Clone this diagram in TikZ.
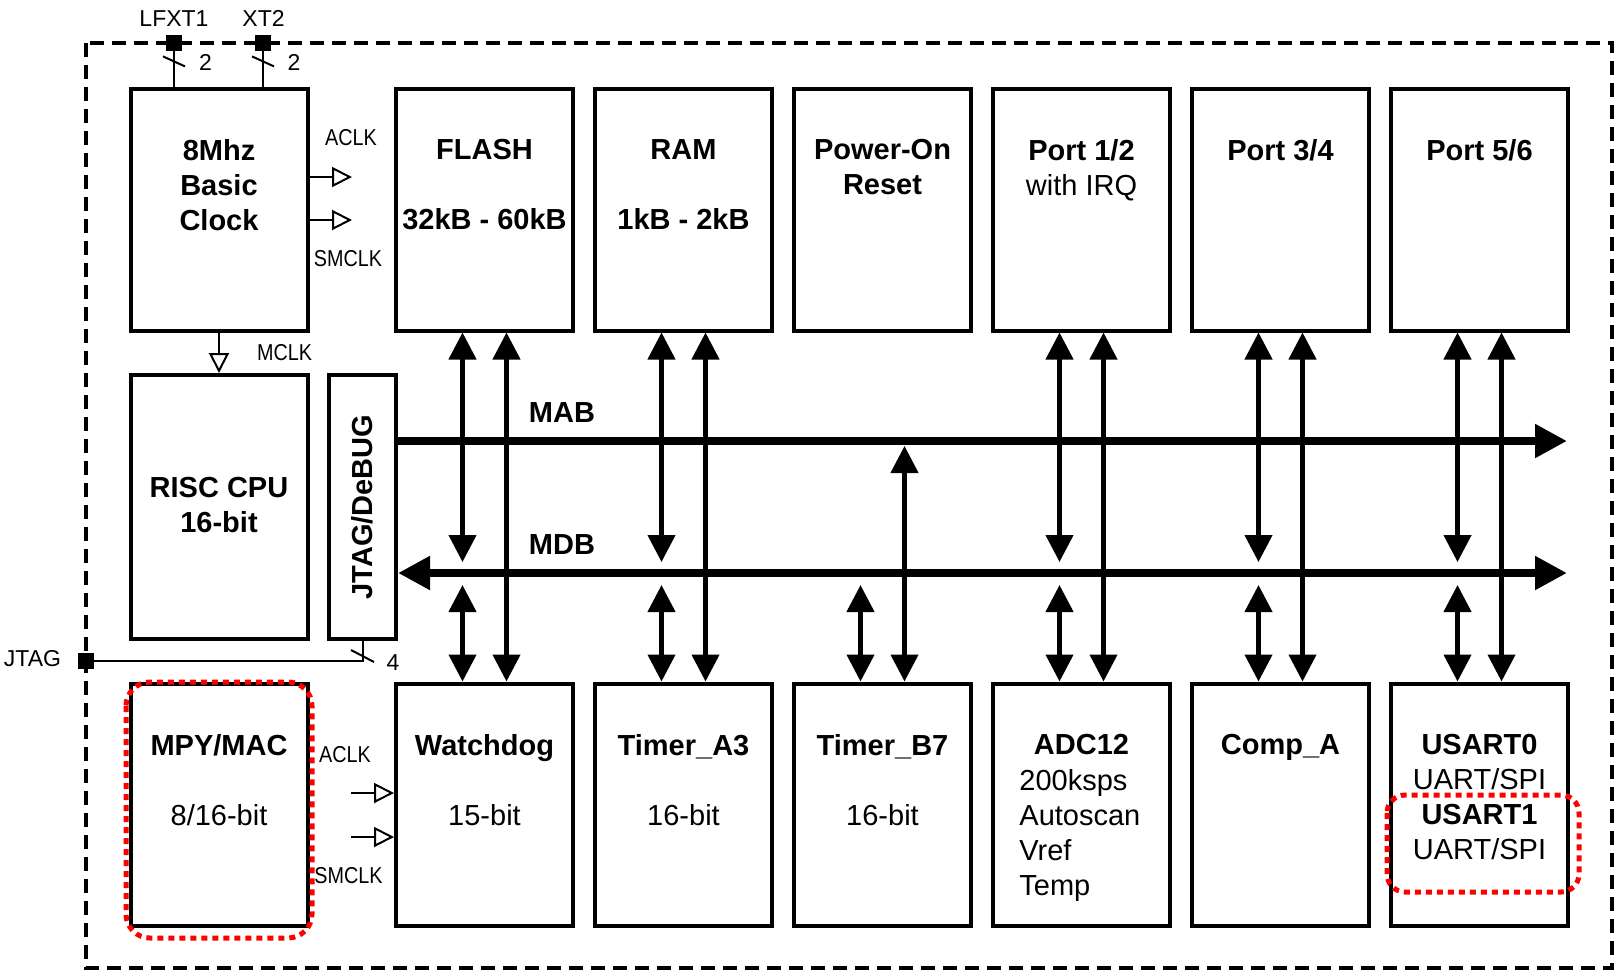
\documentclass[tikz,border=0pt]{standalone}
\usepackage{fontspec}
\setmainfont{Liberation Sans}
\newfontfamily\narrowfont[FakeStretch=0.86]{Liberation Sans}
\usetikzlibrary{arrows.meta, positioning}
\tikzstyle{blk}       = [rectangle, draw=black, line width=2pt, minimum width=88.5pt,
                         minimum height=121pt, inner sep=0pt]
\tikzstyle{ttl}       = [font=\fontsize{14.5pt}{17.5pt}\selectfont\bfseries, align=center,
                         anchor=north, inner sep=0pt]
\tikzstyle{txt}       = [font=\fontsize{14.5pt}{17.5pt}\selectfont, align=left,
                         anchor=north west, inner sep=0pt]
\tikzstyle{lbl}       = [font=\fontsize{11.5pt}{14pt}\selectfont, anchor=base, inner sep=0pt]
\tikzstyle{clbl}      = [font=\narrowfont\fontsize{11.5pt}{14pt}\selectfont, anchor=base, inner sep=0pt]
\tikzstyle{pad}       = [rectangle, fill=black, minimum size=8pt, inner sep=0pt]
\tikzstyle{wire}      = [line width=1pt]
\tikzstyle{clk}       = [line width=1pt, ->, >={Triangle[open, length=10pt, width=10pt]}]
\tikzstyle{bi}        = [line width=2.2pt, <->, >={Triangle[length=13.5pt, width=13.5pt]}]
\tikzstyle{bus}       = [line width=4pt, >={Triangle[length=16pt, width=16pt]}]
\tikzstyle{chipframe} = [line width=2pt, dash pattern=on 7pt off 4pt]
\tikzstyle{redmark}   = [draw=red, line width=2.5pt, dash pattern=on 3pt off 2.5pt]

\begin{document}
\begin{tikzpicture}[x=0.5pt, y=-0.5pt, node distance=9pt]
  \useasboundingbox (0,0) rectangle (1615,975);
  \draw [chipframe] (86,43) rectangle (1612,968);

  % upper row
  \node (clock) [blk] at (219,209.5) {};
  \node (flash) [blk] at (484.5,209.5) {};
  \node (ram)   [blk, right=of flash] {};
  \node (por)   [blk, right=of ram] {};
  \node (p12)   [blk, right=of por] {};
  \node (p34)   [blk, right=of p12] {};
  \node (p56)   [blk, right=of p34] {};

  % cpu and debug
  \node (cpu)  [blk, minimum height=132pt] at (219,507) {};
  \node (jtag) [blk, minimum width=33.5pt, minimum height=132pt] at (362.5,507) {};

  % lower row
  \node (mpy)   [blk] at (219,804.5) {};
  \node (wdog)  [blk] at (484.5,804.5) {};
  \node (tmra)  [blk, right=of wdog] {};
  \node (tmrb)  [blk, right=of tmra] {};
  \node (adc)   [blk, right=of tmrb] {};
  \node (comp)  [blk, right=of adc] {};
  \node (usart) [blk, right=of comp] {};

  \node (clockt) [ttl, below=26.25pt of clock.north] {8Mhz\\Basic\\Clock};
  \node (flasht) [ttl, below=26.25pt of flash.north] {FLASH\\[17.5pt]32kB - 60kB};
  \node (ramt)   [ttl, below=26.25pt of ram.north] {RAM\\[17.5pt]1kB - 2kB};
  \node (port)   [ttl, below=26.25pt of por.north] {Power-On\\Reset};
  \node (p12t)   [ttl, below=26.25pt of p12.north] {Port 1/2\\{\mdseries with IRQ}};
  \node (p34t)   [ttl, below=26.25pt of p34.north] {Port 3/4};
  \node (p56t)   [ttl, below=26.25pt of p56.north] {Port 5/6};
  \node (cput)   [ttl, below=51.75pt of cpu.north] {RISC CPU\\16-bit};
  \node (jtagt)  [ttl, rotate=90, anchor=base] at (372,507) {JTAG/DeBUG};
  \node (mpyt)   [ttl, below=26.25pt of mpy.north] {MPY/MAC\\[17.5pt]{\mdseries 8/16-bit}};
  \node (wdogt)  [ttl, below=26.25pt of wdog.north] {Watchdog\\[17.5pt]{\mdseries 15-bit}};
  \node (tmrat)  [ttl, below=26.25pt of tmra.north] {Timer\_A3\\[17.5pt]{\mdseries 16-bit}};
  \node (tmrbt)  [ttl, below=26.25pt of tmrb.north] {Timer\_B7\\[17.5pt]{\mdseries 16-bit}};
  \node (adct)   [ttl, below=26.25pt of adc.north] {ADC12};
  \node (adcl)   [txt] at (1019,769) {200ksps\\Autoscan\\Vref\\Temp};
  \node (compt)  [ttl, below=26.25pt of comp.north] {Comp\_A};
  \node (usartt) [ttl, below=26.25pt of usart.north] {USART0\\{\mdseries UART/SPI}\\USART1\\{\mdseries UART/SPI}};

  % clock pins
  \node (lfxt)  [pad] at (174,43) {};
  \node (xt2)   [pad] at (263,43) {};
  \node (lfxtl) [lbl] at (174,26) {LFXT1};
  \node (xt2l)  [lbl] at (263.5,26) {XT2};
  \node (lfxtn) [lbl] at (205.5,70) {2};
  \node (xt2n)  [lbl] at (294,70) {2};
  \draw [wire] (lfxt) -- (lfxt |- clock.north);
  \draw [wire] (xt2) -- (xt2 |- clock.north);
  \draw [wire] ([xshift=-5.5pt,yshift=-2.5pt]lfxt.south) -- ++(11pt,-5pt);
  \draw [wire] ([xshift=-5.5pt,yshift=-2.5pt]xt2.south) -- ++(11pt,-5pt);

  % jtag pin
  \node (jtagp) [pad] at (86,661) {};
  \node (jtagl) [lbl] at (32.5,666) {JTAG};
  \node (jtagn) [lbl] at (393,670) {4};
  \draw [wire] (jtagp) -| (jtag);
  \draw [wire] ([xshift=-5.75pt,yshift=-4.5pt]jtag.south) -- ++(11.5pt,-6pt);

  % clocks
  \coordinate (aclko)  at (352,177);
  \coordinate (smclko) at (352,220);
  \coordinate (aclki)  at (351,793);
  \coordinate (smclki) at (351,837);
  \draw [clk] (clock.east |- aclko) -- (aclko);
  \draw [clk] (clock.east |- smclko) -- (smclko);
  \draw [clk] (clock) -- (cpu);
  \draw [clk] (aclki) -- (aclki -| wdog.west);
  \draw [clk] (smclki) -- (smclki -| wdog.west);
  \node (aclkot)  [clbl] at (351,145) {ACLK};
  \node (smclkot) [clbl] at (348,266) {SMCLK};
  \node (mclkt)   [clbl] at (284.5,360) {MCLK};
  \node (aclkit)  [clbl] at (345,762) {ACLK};
  \node (smclkit) [clbl] at (348.5,883) {SMCLK};

  % buses
  \coordinate (mabend) at (1567,441);
  \coordinate (mdbend) at (1567,573);
  \draw [bus, ->] (jtag.east |- mabend) -- (mabend);
  \draw [bus, <->] (jtag.east |- mdbend) -- (mdbend);
  \node (mabt) [ttl, anchor=base] at (562,422) {MAB};
  \node (mdbt) [ttl, anchor=base] at (562,554) {MDB};

  \draw [bi] ([xshift=-11pt]flash.south) -- ++(0,-114.75pt);
  \draw [bi] ([xshift=11pt]flash.south) -- ([xshift=11pt]wdog.north);
  \draw [bi] ([xshift=-11pt]wdog.north) -- ++(0,48.25pt);
  \draw [bi] ([xshift=-11pt]ram.south) -- ++(0,-114.75pt);
  \draw [bi] ([xshift=11pt]ram.south) -- ([xshift=11pt]tmra.north);
  \draw [bi] ([xshift=-11pt]tmra.north) -- ++(0,48.25pt);
  \draw [bi] ([xshift=-11pt]tmrb.north) -- ++(0,48.25pt);
  \draw [bi] ([xshift=11pt]tmrb.north) -- ++(0,117.75pt);
  \draw [bi] ([xshift=-11pt]p12.south) -- ++(0,-114.75pt);
  \draw [bi] ([xshift=11pt]p12.south) -- ([xshift=11pt]adc.north);
  \draw [bi] ([xshift=-11pt]adc.north) -- ++(0,48.25pt);
  \draw [bi] ([xshift=-11pt]p34.south) -- ++(0,-114.75pt);
  \draw [bi] ([xshift=11pt]p34.south) -- ([xshift=11pt]comp.north);
  \draw [bi] ([xshift=-11pt]comp.north) -- ++(0,48.25pt);
  \draw [bi] ([xshift=-11pt]p56.south) -- ++(0,-114.75pt);
  \draw [bi] ([xshift=11pt]p56.south) -- ([xshift=11pt]usart.north);
  \draw [bi] ([xshift=-11pt]usart.north) -- ++(0,48.25pt);

  \draw [redmark, rounded corners=12pt] (126,682) rectangle (312,938);
  \draw [redmark, rounded corners=9pt] (1387,795) rectangle (1579,892);
\end{tikzpicture}
\end{document}
